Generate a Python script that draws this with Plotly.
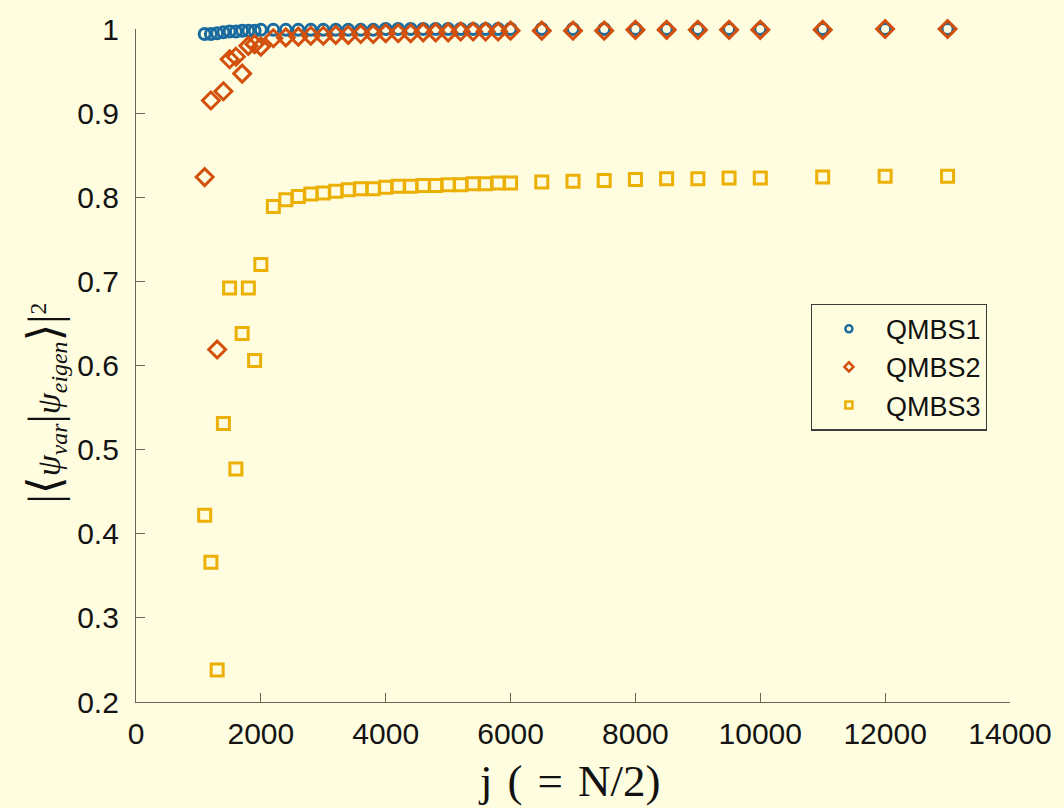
import plotly.graph_objects as go

# System size j (= N/2)
j_vals = [1100, 1200, 1300, 1400, 1500, 1600, 1700, 1800, 1900, 2000,
          2200, 2400, 2600, 2800, 3000, 3200, 3400, 3600, 3800, 4000,
          4200, 4400, 4600, 4800, 5000, 5200, 5400, 5600, 5800, 6000,
          6500, 7000, 7500, 8000, 8500, 9000, 9500, 10000,
          11000, 12000, 13000]

# Overlap |<psi_var|psi_eigen>|^2 for each scar state
qmbs1 = [0.994, 0.994, 0.995, 0.996, 0.997, 0.997, 0.998, 0.998, 0.998, 0.999,
         0.999, 0.999, 0.999, 0.999, 0.999, 0.999, 0.999, 0.999, 0.999, 1.000,
         1.000, 1.000, 1.000, 1.000, 1.000, 1.000, 1.000, 1.000, 1.000, 1.000,
         1.000, 1.000, 1.000, 1.000, 1.000, 1.000, 1.000, 1.000,
         1.000, 1.000, 1.000]
qmbs2 = [0.824, 0.915, 0.619, 0.926, 0.964, 0.967, 0.947, 0.980, 0.982, 0.979,
         0.989, 0.990, 0.991, 0.992, 0.992, 0.993, 0.993, 0.994, 0.994, 0.995,
         0.995, 0.995, 0.996, 0.996, 0.996, 0.997, 0.997, 0.997, 0.997, 0.998,
         0.998, 0.998, 0.998, 0.999, 0.999, 0.999, 0.999, 0.999,
         0.999, 1.000, 1.000]
qmbs3 = [0.422, 0.366, 0.238, 0.531, 0.692, 0.477, 0.638, 0.692, 0.606, 0.720,
         0.789, 0.797, 0.801, 0.804, 0.805, 0.807, 0.809, 0.810, 0.810, 0.812,
         0.813, 0.813, 0.814, 0.814, 0.815, 0.815, 0.816, 0.816, 0.817, 0.817,
         0.818, 0.819, 0.820, 0.821, 0.822, 0.822, 0.823, 0.823,
         0.824, 0.825, 0.825]

series_names = ["QMBS1", "QMBS2", "QMBS3"]
series_colors = ["#1a6b9f", "#d2500c", "#ebb003"]
series_symbols = ["circle-open", "diamond-open", "square-open"]
series_sizes = [11, 13, 12]

x_ticks = [0, 2000, 4000, 6000, 8000, 10000, 12000, 14000]
x_ticktext = ["0", "2000", "4000", "6000", "8000", "10000", "12000", "14000"]
y_ticks = [0.2, 0.3, 0.4, 0.5, 0.6, 0.7, 0.8, 0.9, 1.0]
y_ticktext = ["0.2", "0.3", "0.4", "0.5", "0.6", "0.7", "0.8", "0.9", "1"]

BG = "#fffde0"
AXIS = "#6a665a"

fig = go.Figure()

for name, vals, col, sym, sz in zip(series_names, [qmbs1, qmbs2, qmbs3],
                                    series_colors, series_symbols, series_sizes):
    fig.add_trace(go.Scatter(
        x=j_vals, y=vals, mode="markers", name=name, showlegend=False,
        cliponaxis=False,
        marker=dict(symbol=sym, size=sz, color=col, line=dict(width=3, color=col)),
    ))

# legend entries with small symbols
for name, col, sym in zip(series_names, series_colors, series_symbols):
    fig.add_trace(go.Scatter(
        x=[None], y=[None], mode="markers", name=name,
        marker=dict(symbol=sym, size=7, color=col, line=dict(width=2.5, color=col)),
    ))

tick_font = dict(family="Liberation Sans, Arial, sans-serif", size=30, color="#141414")

fig.update_layout(
    width=1064, height=808,
    paper_bgcolor=BG, plot_bgcolor=BG,
    margin=dict(l=136, r=50, t=22, b=106),
    showlegend=True,
    legend=dict(
        x=0.772, y=0.592, xanchor="left", yanchor="top",
        bgcolor=BG, bordercolor="#3c3c3c", borderwidth=1.2,
        font=dict(family="Liberation Sans, Arial, sans-serif", size=27, color="#111"),
        itemwidth=64, tracegroupgap=0,
    ),
    xaxis=dict(
        range=[0, 14000], tickvals=x_ticks, ticktext=x_ticktext, ticks="inside",
        ticklen=9, tickcolor=AXIS, tickwidth=1.2, showline=True, linecolor=AXIS,
        linewidth=1.3, showgrid=False, zeroline=False, tickfont=tick_font,
        ticklabelstandoff=5,
    ),
    yaxis=dict(
        range=[0.2, 1.0], tickvals=y_ticks, ticktext=y_ticktext, ticks="inside",
        ticklen=9, tickcolor=AXIS, tickwidth=1.2, showline=True, linecolor=AXIS,
        linewidth=1.3, showgrid=False, zeroline=False, tickfont=tick_font,
        ticklabelstandoff=10,
    ),
)

serif = "Liberation Serif, DejaVu Serif, serif"
fig.add_annotation(
    text="j\u2004(\u2004=\u2004N/2)", xref="paper", yref="paper",
    x=(571 - 136) / 878, y=-(782 - 702) / 680, xanchor="center", yanchor="middle",
    showarrow=False, font=dict(family=serif, size=45, color="#111"),
)

big = '<span style="font-size:46px">'
ylabel = (big + "|\u27e8</span><i>\u03c8</i><sub><i>var</i></sub>"
          + big + "|</span><i>\u03c8</i><sub><i>eigen</i></sub>"
          + big + "\u27e9|</span><sup>2</sup>")
fig.add_annotation(
    text=ylabel, xref="paper", yref="paper", textangle=-90,
    x=-(136 - 45) / 878, y=(702 - 400) / 680, xanchor="center", yanchor="middle",
    showarrow=False, font=dict(family=serif, size=34, color="#111"),
)

fig.write_html("out.html")
